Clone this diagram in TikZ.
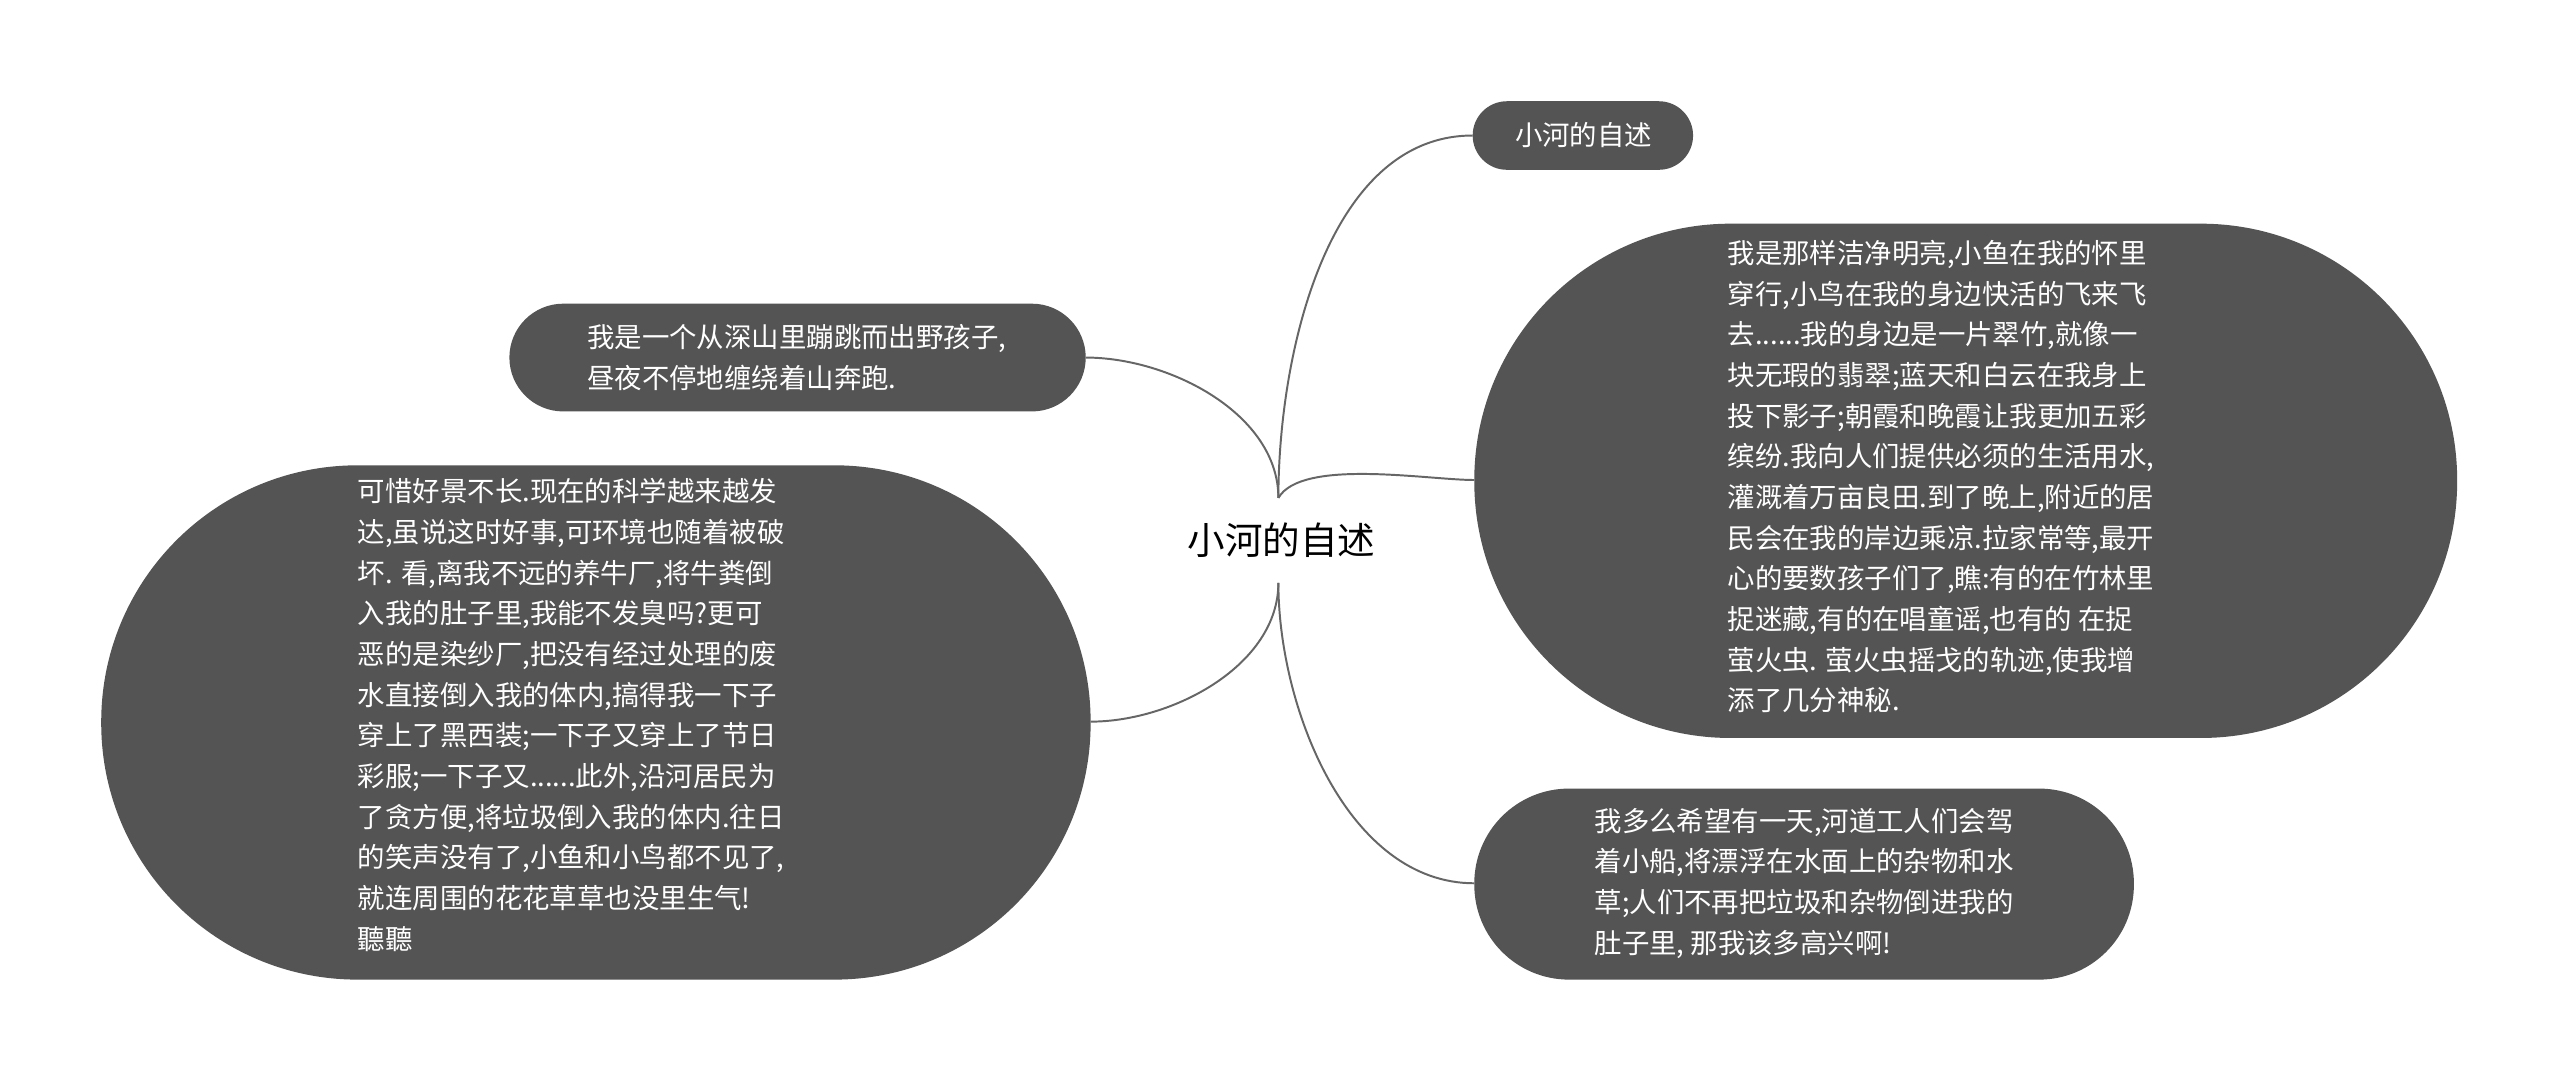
\documentclass[tikz,border=0pt]{standalone}
\usepackage{fontspec}
\setmainfont{Noto Sans CJK SC}
\begin{document}
\begin{tikzpicture}[x=1pt,y=-1pt,
 txt/.style={text=white,align=left,inner sep=0pt,font=\fontsize{16.8}{24.9}\selectfont},
 link/.style={draw=black!60,line width=1.2pt}]
\useasboundingbox (0,0) rectangle (1568,662);
\fill[white] (0,0) rectangle (1568,662);
\node[font=\fontsize{23}{27}\selectfont] (c) at (785,331) {小河的自述};
\coordinate (ht) at (783,305);
\coordinate (hb) at (783,357);
\fill[black!67,rounded corners=21] (902,62) rectangle (1037,104);
\node[txt] (n1) at (970,83) {小河的自述};
\coordinate (n1w) at (902,83);
\fill[black!67,rounded corners=157] (903,137) rectangle (1505,452);
\node[txt,anchor=north west] (n2) at (1058,147) {我是那样洁净明亮,小鱼在我的怀里\\穿行,小鸟在我的身边快活的飞来飞\\去......我的身边是一片翠竹,就像一\\块无瑕的翡翠;蓝天和白云在我身上\\投下影子;朝霞和晚霞让我更加五彩\\缤纷.我向人们提供必须的生活用水,\\灌溉着万亩良田.到了晚上,附近的居\\民会在我的岸边乘凉.拉家常等,最开\\心的要数孩子们了,瞧:有的在竹林里\\捉迷藏,有的在唱童谣,也有的 在捉\\萤火虫. 萤火虫摇戈的轨迹,使我增\\添了几分神秘.};
\coordinate (n2w) at (903,294);
\fill[black!67,rounded corners=58] (903,483) rectangle (1307,600);
\node[txt] (n3) at (1105,541) {我多么希望有一天,河道工人们会驾\\着小船,将漂浮在水面上的杂物和水\\草;人们不再把垃圾和杂物倒进我的\\肚子里, 那我该多高兴啊!};
\coordinate (n3w) at (903,541);
\fill[black!67,rounded corners=33] (312,186) rectangle (665,252);
\node[txt] (n4) at (488,219) {我是一个从深山里蹦跳而出野孩子,\\昼夜不停地缠绕着山奔跑.};
\coordinate (n4e) at (665,219);
\fill[black!67,rounded corners=157] (62,285) rectangle (668,600);
\node[txt,anchor=north west] (n5) at (219,293) {可惜好景不长.现在的科学越来越发\\达,虽说这时好事,可环境也随着被破\\坏. 看,离我不远的养牛厂,将牛粪倒\\入我的肚子里,我能不发臭吗?更可\\恶的是染纱厂,把没有经过处理的废\\水直接倒入我的体内,搞得我一下子\\穿上了黑西装;一下子又穿上了节日\\彩服;一下子又......此外,沿河居民为\\了贪方便,将垃圾倒入我的体内.往日\\的笑声没有了,小鱼和小鸟都不见了,\\就连周围的花花草草也没里生气!\\聽聽};
\coordinate (n5e) at (668,442);
\draw[link] (ht) to[out=90,in=180,looseness=0.9] (n1w);
\draw[link] (ht) to[out=60,in=180,looseness=0.6] (n2w);
\draw[link] (hb) to[out=270,in=180,looseness=0.9] (n3w);
\draw[link] (n4e) to[out=0,in=90,looseness=0.9] (ht);
\draw[link] (n5e) to[out=0,in=270,looseness=0.9] (hb);
\end{tikzpicture}
\end{document}
